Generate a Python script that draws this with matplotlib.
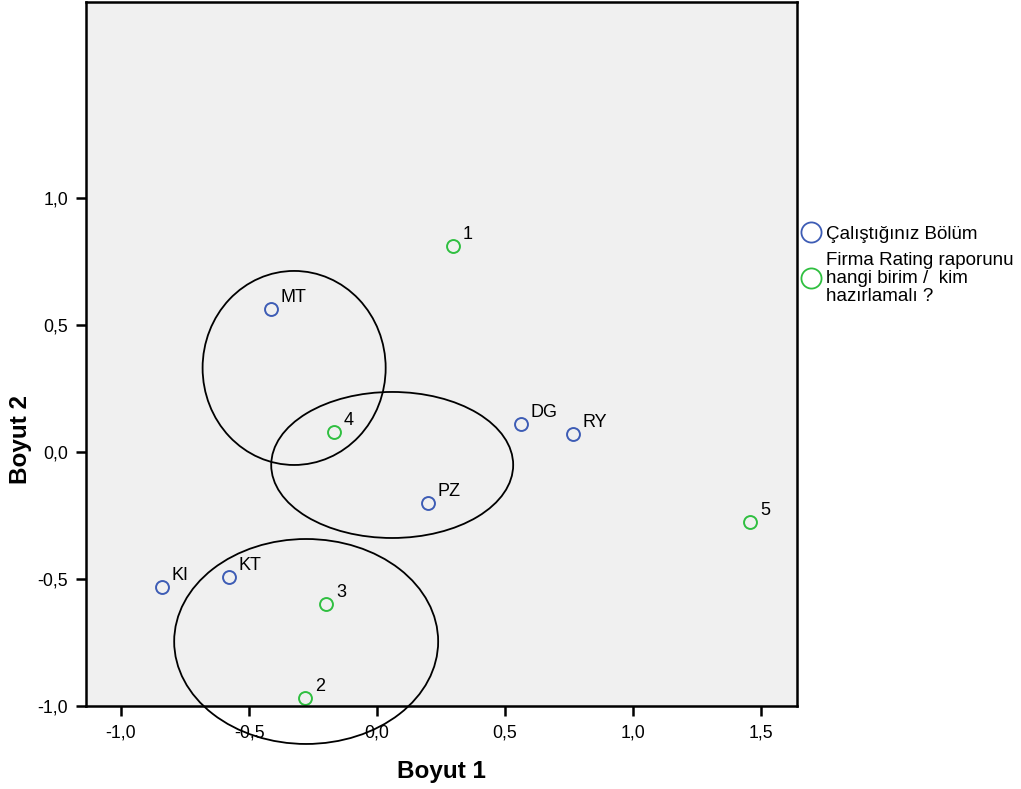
import matplotlib
matplotlib.use("Agg")
import matplotlib.pyplot as plt
from matplotlib.patches import Ellipse
from matplotlib.lines import Line2D

plt.rcParams['font.family'] = ['Liberation Sans', 'DejaVu Sans']

# Series 1: Çalıştığınız Bölüm
bolum_labels = ["MT", "DG", "RY", "PZ", "KI", "KT"]
bolum_x = [-0.414, 0.563, 0.766, 0.199, -0.840, -0.578]
bolum_y = [0.563, 0.110, 0.071, -0.201, -0.531, -0.492]

# Series 2: Firma Rating raporunu hangi birim / kim hazırlamalı ?
firma_labels = ["1", "4", "5", "3", "2"]
firma_x = [0.297, -0.168, 1.457, -0.199, -0.281]
firma_y = [0.811, 0.079, -0.276, -0.598, -0.969]

# Grouping ellipses (center x, center y, width, height)
ell_cx = [-0.324, 0.059, -0.277]
ell_cy = [0.331, -0.051, -0.746]
ell_w = [0.715, 0.945, 1.031]
ell_h = [0.764, 0.575, 0.807]

xticks = [-1.0, -0.5, 0.0, 0.5, 1.0, 1.5]
yticks = [-1.0, -0.5, 0.0, 0.5, 1.0]

blue = "#3d5cb5"
green = "#2fbf40"

fig = plt.figure(figsize=(10.21, 7.89), dpi=100)
ax = fig.add_axes([0.0842, 0.1052, 0.6964, 0.8923])
ax.set_facecolor("#f0f0f0")
ax.set_xlim(-1.137, 1.640)
ax.set_ylim(-1.0, 1.772)

s1, = ax.plot(bolum_x, bolum_y, 'o', mfc='none', mec=blue, ms=9.3, mew=1.4, ls='none', clip_on=False)
s2, = ax.plot(firma_x, firma_y, 'o', mfc='none', mec=green, ms=9.3, mew=1.4, ls='none', clip_on=False)

for lab, x, y in zip(bolum_labels + firma_labels, bolum_x + firma_x, bolum_y + firma_y):
    ax.annotate(lab, (x, y), xytext=(7, 2), textcoords='offset points',
                fontsize=13, ha='left', va='bottom')

for cx, cy, w, h in zip(ell_cx, ell_cy, ell_w, ell_h):
    e = Ellipse((cx, cy), w, h, fill=False, edgecolor='black', lw=1.3, clip_on=False)
    ax.add_patch(e)

ax.set_xticks(xticks)
ax.set_yticks(yticks)
ax.set_xticklabels([f"{t:.1f}".replace('.', ',') for t in xticks], fontsize=12.8)
ax.set_yticklabels([f"{t:.1f}".replace('.', ',') for t in yticks], fontsize=12.8)
ax.tick_params(direction='out', length=7, width=1.8, pad=6)
for sp in ax.spines.values():
    sp.set_linewidth(1.8)

ax.set_xlabel("Boyut 1", fontsize=17.5, fontweight='bold', labelpad=14)
ax.set_ylabel("Boyut 2", fontsize=17.5, fontweight='bold')
ax.yaxis.set_label_coords(-0.076, 0.378)

h1 = Line2D([], [], marker='o', mfc='none', mec=blue, ms=14.5, mew=1.3, ls='none')
h2 = Line2D([], [], marker='o', mfc='none', mec=green, ms=14.5, mew=1.3, ls='none')
leg = ax.legend([h1, h2], ["Çalıştığınız Bölüm", "Firma Rating raporunu\nhangi birim /  kim\nhazırlamalı ?"],
                loc='upper left', bbox_to_anchor=(1.0, 0.682), frameon=False,
                fontsize=13.5, handletextpad=0.05, handlelength=1.5, borderaxespad=0.0,
                borderpad=0.0, labelspacing=0.5)
for t in leg.get_texts():
    t.set_linespacing(1.05)

fig.savefig("out.png", dpi=100)
